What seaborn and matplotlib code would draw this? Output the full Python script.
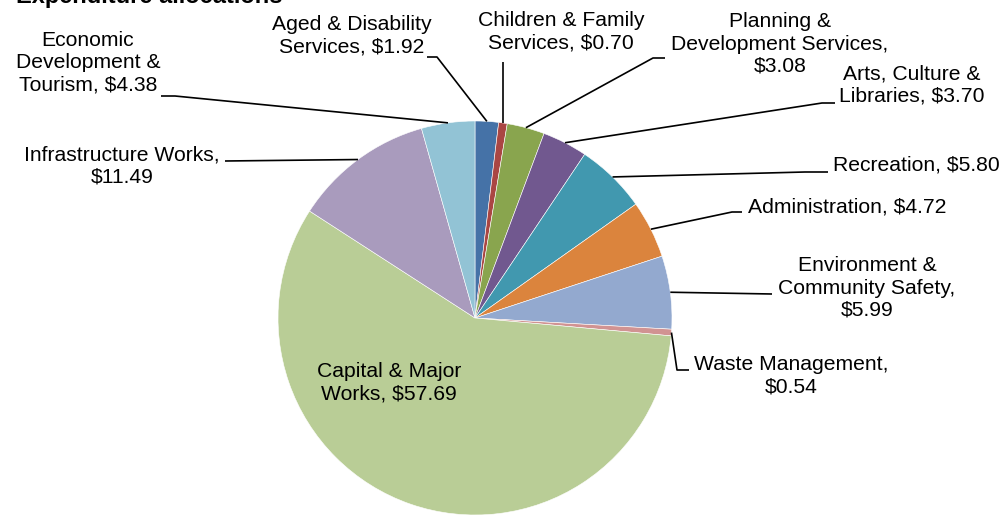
import matplotlib
matplotlib.use("Agg")
import matplotlib.pyplot as plt
import seaborn as sns
import numpy as np

# ---- data ----
categories = [
    "Aged & Disability\nServices, $1.92",
    "Children & Family\nServices, $0.70",
    "Planning &\nDevelopment Services,\n$3.08",
    "Arts, Culture &\nLibraries, $3.70",
    "Recreation, $5.80",
    "Administration, $4.72",
    "Environment &\nCommunity Safety,\n$5.99",
    "Waste Management,\n$0.54",
    "Capital & Major\nWorks, $57.69",
    "Infrastructure Works,\n$11.49",
    "Economic\nDevelopment &\nTourism, $4.38",
]
values = [1.92, 0.70, 3.08, 3.70, 5.80, 4.72, 5.99, 0.54, 57.69, 11.49, 4.38]
colors = ["#4572A7", "#AA4643", "#89A54E", "#71588F", "#4198AF", "#DB843D",
          "#93A9CF", "#D19392", "#B9CD96", "#A99BBD", "#92C3D5"]
title = "Expenditure allocations"

# ---- layout (pixel coordinates, y measured from top) ----
W, H = 1002, 515
CX, CY, R = 475, 318, 197
label_pos = [
    (352, 36, "center"), (561, 32, "center"), (780, 44, "center"),
    (912, 85, "center"), (833, 165, "left"), (748, 207, "left"),
    (867, 288, "center"), (791, 376, "center"), (389, 383, "center"),
    (122, 166, "center"), (88, 63, "center"),
]
leader = [
    [(437, 57), (427, 57)],
    [(503, 62)],
    [(653, 58), (665, 58)],
    [(822, 103), (835, 103)],
    [(805, 172), (828, 172)],
    [(732, 212), (742, 212)],
    [(772, 294)],
    [(677, 370), (689, 370)],
    None,
    [(225, 161)],
    [(175, 96), (161, 96)],
]

sns.set_theme(style="white")
plt.rcParams["font.family"] = ["Liberation Sans", "DejaVu Sans"]

fig = plt.figure(figsize=(W / 100, H / 100), dpi=100)
ax = fig.add_axes([0, 0, 1, 1])

def py(y):
    return H - y

wedges, _ = ax.pie(values, colors=colors, startangle=90, counterclock=False,
                   center=(CX, py(CY)), radius=R, frame=True,
                   wedgeprops=dict(edgecolor="white", linewidth=0.4))
ax.set_xlim(0, W)
ax.set_ylim(0, H)
ax.set_aspect("equal")
ax.axis("off")

for w, lab, (lx, ly, ha), path in zip(wedges, categories, label_pos, leader):
    ax.text(lx, py(ly), lab, ha=ha, va="center", multialignment="center",
            fontsize=15.2, color="black", linespacing=1.22)
    if path is None:
        continue
    mid = np.deg2rad((w.theta1 + w.theta2) / 2)
    sx = CX + R * np.cos(mid)
    sy = py(CY) + R * np.sin(mid)
    xs = [sx] + [p[0] for p in path]
    ys = [sy] + [py(p[1]) for p in path]
    ax.plot(xs, ys, color="black", lw=1.2, solid_capstyle="butt")

ax.text(283, py(3), title, ha="right", va="baseline", fontsize=17,
        fontweight="bold", color="black")

fig.savefig("out.png", dpi=100)
